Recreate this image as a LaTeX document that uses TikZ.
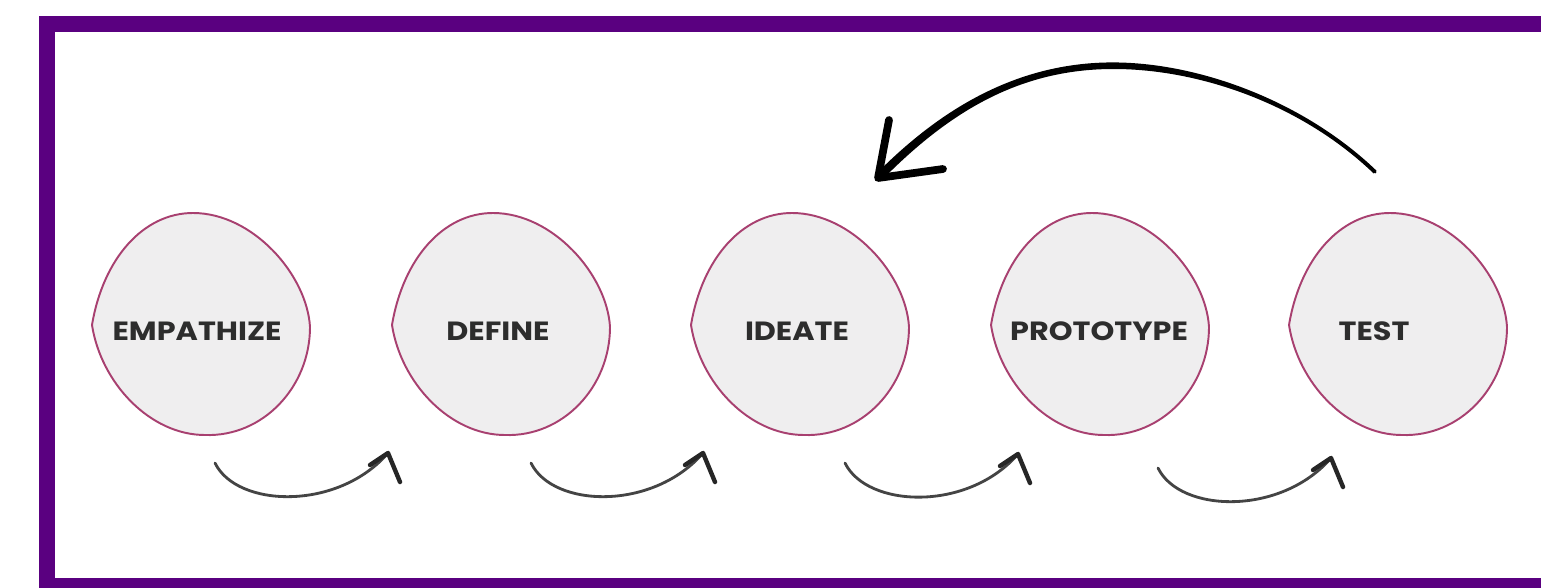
\documentclass[tikz,border=0pt]{standalone}
\usepackage{fontspec}
\newfontfamily\lblfont{Poppins}[FakeStretch=1.15]
\usetikzlibrary{calc}
\definecolor{framepurple}{RGB}{90,0,128}
\definecolor{blobfill}{RGB}{239,238,239}
\definecolor{blobedge}{RGB}{168,64,112}
\definecolor{inkgray}{RGB}{68,68,68}
\definecolor{labelink}{RGB}{45,45,45}

% hand-drawn bubble, centred on the given point
\newcommand\bubble[1]{%
  \filldraw[bubblestyle,shift={#1}]
    (-109,0) .. controls (-98,-66) and (-58,-112) .. (-8,-112)
    .. controls (52,-112) and (106,-50) .. (109,2)
    .. controls (109,62) and (62,112) .. (4,110)
    .. controls (-51,110) and (-100,58) .. cycle;}

\begin{document}
\begin{tikzpicture}[x=0.02cm,y=-0.02cm,
  bubblestyle/.style={fill=blobfill,draw=blobedge,line width=1.1pt,line join=round},
  lbl/.style={font=\lblfont\bfseries\fontsize{15}{17}\selectfont,text=labelink,inner sep=0pt,anchor=base},
  stepline/.style={draw=inkgray,line width=1.6pt,line cap=round},
  stephead/.style={draw=black!85,line width=2.5pt,line cap=round,line join=round},
  backhead/.style={draw=black,line width=4.4pt,line cap=round,line join=round}]

\useasboundingbox (0,0) rectangle (1541,588);
\fill[white] (0,0) rectangle (1541,588);

% frame
\fill[framepurple] (39,16) rectangle (1541,588);
\fill[white] (55,32) rectangle (1541,578);

% bubbles
\bubble{(201,325)}
\bubble{(501,325)}
\bubble{(800,325)}
\bubble{(1100,325)}
\bubble{(1398,325)}

% labels
\node[lbl] (emp) at (197,340) {EMPATHIZE};
\node[lbl] (def) at (498,340) {DEFINE};
\node[lbl] (ide) at (797,340) {IDEATE};
\node[lbl] (pro) at (1099,340) {PROTOTYPE};
\node[lbl] (tst) at (1374,340) {TEST};

% ends of the step arrows
\coordinate (s1) at (215,463);  \coordinate (t1) at (388,453);
\coordinate (s2) at (531,463);  \coordinate (t2) at (703,453);
\coordinate (s3) at (845,463);  \coordinate (t3) at (1018,454);
\coordinate (s4) at (1158,468); \coordinate (t4) at (1331,458);

\foreach \i in {1,2,3,4}{
  \draw[stepline] (s\i) .. controls ($(s\i)+(22,45)$) and ($(t\i)+(-50,58)$) .. (t\i);
  \draw[stephead] ($(t\i)+(-18,12)$) -- (t\i) -- ($(t\i)+(12,29)$);
}

% loop back from TEST to IDEATE, tapering towards the tip
\coordinate (bs) at (1375,172);
\coordinate (bt) at (878,178);
\fill[black] (1376.4,170.6) .. controls (1301.4,98.6) and (1190,58.7) .. (1100,62.7)
  .. controls (1010,66.7) and (937.0,112.1) .. (875.0,175.1)
  -- (881.0,180.9) .. controls (943.0,117.9) and (1010,73.3) .. (1100,69.3)
  .. controls (1190,65.3) and (1298.6,101.4) .. (1373.6,173.4) -- cycle;
\fill[black] (bs) circle (1.5);
\draw[backhead] (889,120) -- (bt) -- (943,169);

\end{tikzpicture}
\end{document}
